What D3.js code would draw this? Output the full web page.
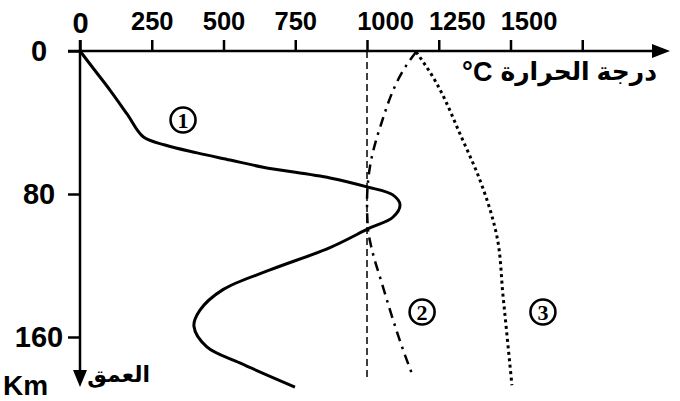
<!DOCTYPE html>
<html>
<head>
    <meta charset="utf-8" />
    <title>temperature vs depth</title>
    <script src="https://cdn.jsdelivr.net/npm/d3@7/dist/d3.min.js"></script>
    <style>
        html, body { margin: 0; padding: 0; background: #fff; }
        svg { display: block; }
        text { font-family: "Liberation Sans", Arial, "DejaVu Sans", sans-serif; font-weight: bold; fill: #000; }
    </style>
</head>
<body>
    <div id="container"></div>
    <script>
        // axes
        const tempTicks = [0, 250, 500, 750, 1000, 1250, 1500, 1750];
        const tempLabels = ["0", "250", "500", "750", "1000", "1250", "1500", ""];
        const depthTicks = [0, 80, 160];
        const depthLabels = ["0", "80", "160"];

        // curve 1 : geotherm (solid)
        const geoTemp = [0, 50, 105, 165, 220, 296, 408, 523, 638, 871, 1000, 1090, 1115, 1090, 1010, 871, 662, 498, 418, 397, 442, 557, 749];
        const geoDepth = [0, 10.5, 22, 35.5, 48, 52.6, 57, 61, 65, 71, 76, 80.5, 86, 93, 99, 110, 122.5, 133.5, 145, 154, 165.5, 174.5, 188];
        // curve 2 : wet solidus (dash-dot)
        const wetTemp = [1171, 1150, 1045, 1010, 1000, 1003, 1017, 1052, 1090, 1132, 1160];
        const wetDepth = [0.5, 5, 43, 65, 85, 99, 111, 130, 150, 170, 182];
        // curve 3 : dry solidus (dotted)
        const dryTemp = [1171, 1220, 1334, 1393, 1453, 1474, 1505];
        const dryDepth = [0.5, 12, 50, 72, 104, 137, 187];

        const refTemp = 1000;
        const markNames = ["1", "2", "3"];
        const markTemp = [359, 1192, 1613];
        const markDepth = [38.6, 146, 146];

        const W = 680, H = 401;
        const svg = d3.select("#container").append("svg")
            .attr("width", W)
            .attr("height", H);

        const x = d3.scaleLinear().domain([0, 1750]).range([80, 582.25]);
        const y = d3.scaleLinear().domain([0, 160]).range([51, 337]);

        // x axis (ticks on top)
        const xAxis = svg.append("g")
            .attr("transform", `translate(0,${y(0)})`)
            .call(d3.axisTop(x).tickValues(tempTicks).tickSizeInner(11).tickSizeOuter(0)
                .tickPadding(10).tickFormat((d, i) => tempLabels[i]));
        xAxis.select(".domain").remove();
        xAxis.selectAll(".tick line").attr("stroke", "#000").attr("stroke-width", 2.5);
        xAxis.selectAll(".tick text")
            .attr("font-size", d => d === 0 ? 29 : 25.5)
            .attr("dy", d => d === 0 ? "3px" : "0")
            .attr("x", d => d >= 1000 ? 18 : 0);

        svg.append("line")
            .attr("x1", 68).attr("x2", 656)
            .attr("y1", y(0)).attr("y2", y(0))
            .attr("stroke", "#000").attr("stroke-width", 2.5);
        svg.append("path")
            .attr("d", `M652,${y(0) - 7}L670,${y(0)}L652,${y(0) + 7}Z`)
            .attr("fill", "#000");

        // y axis (ticks on left)
        const yAxis = svg.append("g")
            .attr("transform", `translate(${x(0)},0)`)
            .call(d3.axisLeft(y).tickValues(depthTicks).tickSizeInner(12).tickSizeOuter(0)
                .tickFormat((d, i) => depthLabels[i]));
        yAxis.select(".domain").remove();
        yAxis.selectAll(".tick line").attr("stroke", "#000").attr("stroke-width", 2.5);
        yAxis.selectAll(".tick text")
            .attr("font-size", 29)
            .attr("text-anchor", "middle")
            .attr("x", -41)
            .attr("dy", "0.33em");

        svg.append("line")
            .attr("x1", x(0)).attr("x2", x(0))
            .attr("y1", 40).attr("y2", 372)
            .attr("stroke", "#000").attr("stroke-width", 2.5);
        svg.append("path")
            .attr("d", `M${x(0) - 7},370L${x(0) + 7},370L${x(0)},387Z`)
            .attr("fill", "#000");

        // axis titles
        const tTitle = svg.append("text")
            .attr("x", 657).attr("y", 80)
            .attr("font-size", 25)
            .attr("text-anchor", "end")
            .text("درجة الحرارة");
        const tw = tTitle.node().getComputedTextLength();
        svg.append("text")
            .attr("x", 657 - tw - 8).attr("y", 81)
            .attr("font-size", 27)
            .attr("text-anchor", "end")
            .text("°C");

        svg.append("text")
            .attr("x", 150).attr("y", 382)
            .attr("font-size", 22)
            .attr("text-anchor", "end")
            .text("العمق");
        svg.append("text")
            .attr("x", 3).attr("y", 395)
            .attr("font-size", 28)
            .text("Km");

        // reference line at 1000 °C
        svg.append("line")
            .attr("x1", x(refTemp)).attr("x2", x(refTemp))
            .attr("y1", y(0)).attr("y2", 380)
            .attr("stroke", "#000").attr("stroke-width", 1.5)
            .attr("stroke-dasharray", "7,4");

        const smooth = d3.line()
            .x(d => x(d[0]))
            .y(d => y(d[1]))
            .curve(d3.curveCatmullRom.alpha(0.5));
        const line = d3.line()
            .x(d => x(d[0]))
            .y(d => y(d[1]))
            .curve(d3.curveMonotoneY);

        svg.append("path")
            .datum(d3.zip(geoTemp, geoDepth))
            .attr("d", smooth)
            .attr("fill", "none").attr("stroke", "#000").attr("stroke-width", 3);

        svg.append("path")
            .datum(d3.zip(wetTemp, wetDepth))
            .attr("d", line)
            .attr("fill", "none").attr("stroke", "#000").attr("stroke-width", 2.5)
            .attr("stroke-dasharray", "10,6,2.5,6");

        svg.append("path")
            .datum(d3.zip(dryTemp, dryDepth))
            .attr("d", line)
            .attr("fill", "none").attr("stroke", "#000").attr("stroke-width", 3)
            .attr("stroke-dasharray", "3,3.5");

        // circled curve numbers
        const marks = svg.selectAll(".mark")
            .data(markNames)
            .enter()
            .append("g")
            .attr("class", "mark")
            .attr("transform", (d, i) => `translate(${x(markTemp[i])},${y(markDepth[i])})`);
        marks.append("circle")
            .attr("r", 12.5)
            .attr("fill", "none")
            .attr("stroke", "#000")
            .attr("stroke-width", 2.6);
        marks.append("text")
            .attr("text-anchor", "middle")
            .attr("dy", "0.35em")
            .attr("font-size", 22)
            .style("font-family", '"Liberation Serif", "DejaVu Serif", serif')
            .text(d => d);
    </script>
</body>
</html>
